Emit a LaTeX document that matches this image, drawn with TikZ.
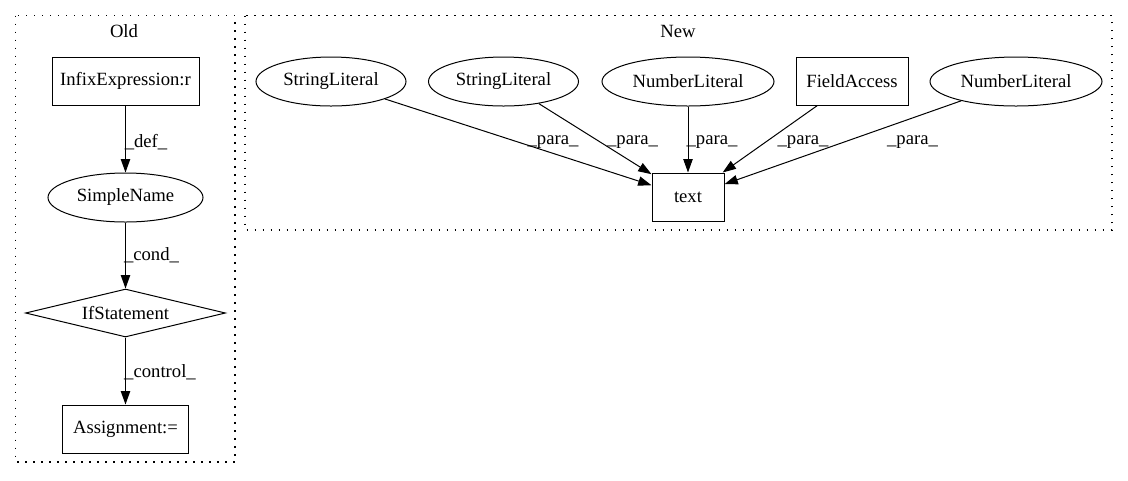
\documentclass[tikz,border=0pt]{standalone}
\usepackage{fontspec}
\setmainfont{Liberation Serif}
\usetikzlibrary{shapes.geometric,arrows.meta}
\begin{document}
\begin{tikzpicture}[x=0.75pt,y=-0.75pt,
  every node/.style={font=\fontsize{14pt}{16pt}\selectfont, inner sep=0pt},
  boxnode/.style={draw, line width=0.75pt, rectangle, minimum height=36pt},
  ellnode/.style={draw, line width=0.75pt, ellipse, minimum height=36.75pt},
  dianode/.style={draw, line width=0.75pt, diamond, aspect=4, minimum width=150pt, minimum height=36pt},
  cluster/.style={draw, line width=1pt, dash pattern=on 1pt off 5pt},
  edge/.style={draw, line width=0.75pt, -{Triangle[length=10pt,width=7pt]}},
  elabel/.style={fill=none}]
\useasboundingbox (0,0) rectangle (1128,480);
% clusters
\draw[cluster] (15.7,15.7) rectangle (235,462);
\draw[cluster] (245,15.7) rectangle (1112,230);
\node (oldlbl) at (124,31) {Old};
\node (newlbl) at (678,31) {New};
% Old
\node[boxnode, minimum width=110.25pt] (infix) at (125.5,81) {InfixExpression:r};
\node[ellnode, minimum width=116.25pt] (sname) at (125.5,197.5) {SimpleName};
\node[dianode] (ifst) at (125.5,313) {IfStatement};
\node[boxnode, minimum width=94.5pt] (assign) at (125.5,429) {Assignment:=};
\draw[edge] (infix) -- (sname);
\draw[edge] (sname) -- (ifst);
\draw[edge] (ifst) -- (assign);
\node[elabel] (ldef) at (146,142) {\_def\_};
\node[elabel] (lcond) at (151.5,255) {\_cond\_};
\node[elabel] (lcontrol) at (160,372) {\_control\_};
% New
\node[ellnode, minimum width=112.5pt] (sl1) at (331,81.5) {StringLiteral};
\node[ellnode, minimum width=112.5pt] (sl2) at (503.5,81.5) {StringLiteral};
\node[ellnode, minimum width=129pt] (nl1) at (688,81.5) {NumberLiteral};
\node[boxnode, minimum width=84pt] (fa) at (852,81) {FieldAccess};
\node[ellnode, minimum width=129pt] (nl2) at (1016,81.5) {NumberLiteral};
\node[boxnode, minimum width=54pt] (txt) at (688,197) {text};
\draw[edge] (sl1) -- (txt);
\draw[edge] (sl2) -- (txt);
\draw[edge] (nl1) -- (txt);
\draw[edge] (fa) -- (txt);
\draw[edge] (nl2) -- (txt);
\node[elabel] (lp1) at (553,142) {\_para\_};
\node[elabel] (lp2) at (632.5,142) {\_para\_};
\node[elabel] (lp3) at (712,142) {\_para\_};
\node[elabel] (lp4) at (803,142) {\_para\_};
\node[elabel] (lp5) at (912.5,142) {\_para\_};
\end{tikzpicture}
\end{document}
